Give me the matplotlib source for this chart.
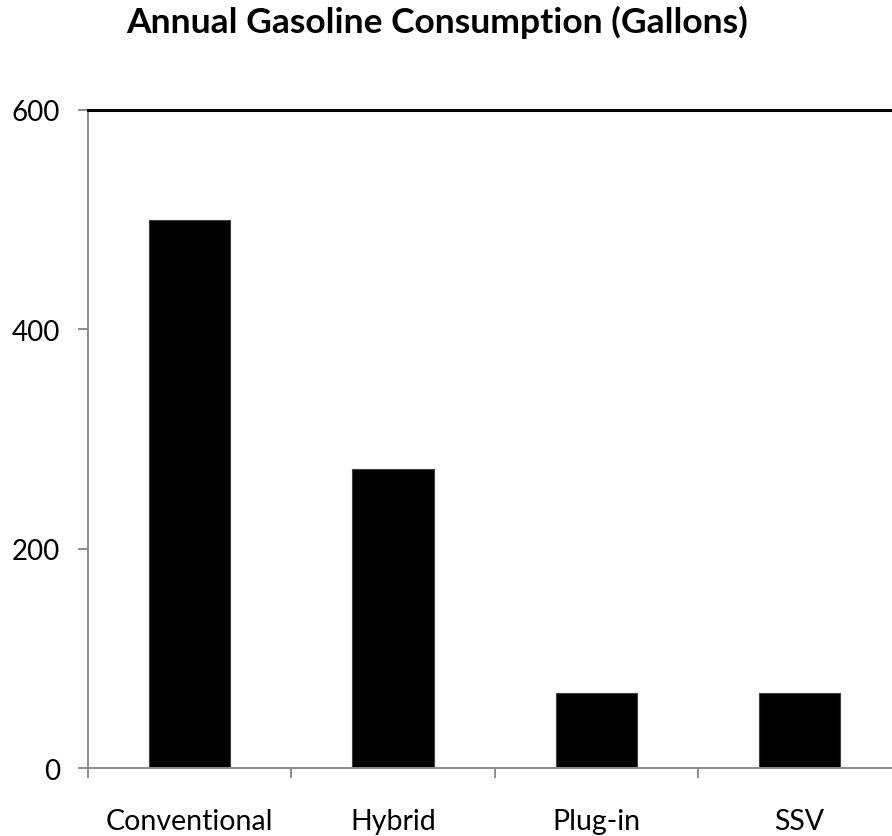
import matplotlib.pyplot as plt

plt.rcParams['font.family'] = ['Lato', 'DejaVu Sans']

# annual gasoline use per vehicle type, gallons
vehicles = ['Conventional', 'Hybrid', 'Plug-in', 'SSV']
gallons = [500, 273, 68, 68]
yticks = [0, 200, 400, 600]

fig = plt.figure(figsize=(8.92, 8.37), dpi=100)
ax = fig.add_axes([0.0987, 0.0812, 0.9115, 0.7862])

pos = list(range(len(vehicles)))
ax.bar(pos, gallons, width=0.4, color='black', edgecolor='#404040', linewidth=0.8)

ax.set_xlim(-0.5, len(vehicles) - 0.5)
ax.set_ylim(0, 600)
ax.set_yticks(yticks)
ax.set_yticklabels([str(v) for v in yticks], fontsize=20)

# boundary ticks as major, category names on minor ticks
ax.set_xticks([p - 0.5 for p in pos] + [len(vehicles) - 0.5])
ax.set_xticklabels([])
ax.set_xticks(pos, minor=True)
ax.set_xticklabels(vehicles, minor=True, fontsize=20.5)
ax.tick_params(axis='x', which='minor', length=0, pad=29)
ax.tick_params(axis='x', which='major', length=7, width=1.4, color='#8c8c8c')
ax.tick_params(axis='y', length=7, width=1.4, color='#8c8c8c', pad=13)

for side in ['left', 'bottom']:
    ax.spines[side].set_color('#8c8c8c')
    ax.spines[side].set_linewidth(1.4)
ax.spines['top'].set_color('black')
ax.spines['top'].set_linewidth(2.2)
ax.spines['right'].set_visible(False)

fig.text(0.49, 1 - 33 / 837, 'Annual Gasoline Consumption (Gallons)', ha='center',
         va='baseline', fontsize=25.5, fontweight='bold')

fig.savefig('out.png', dpi=100)
